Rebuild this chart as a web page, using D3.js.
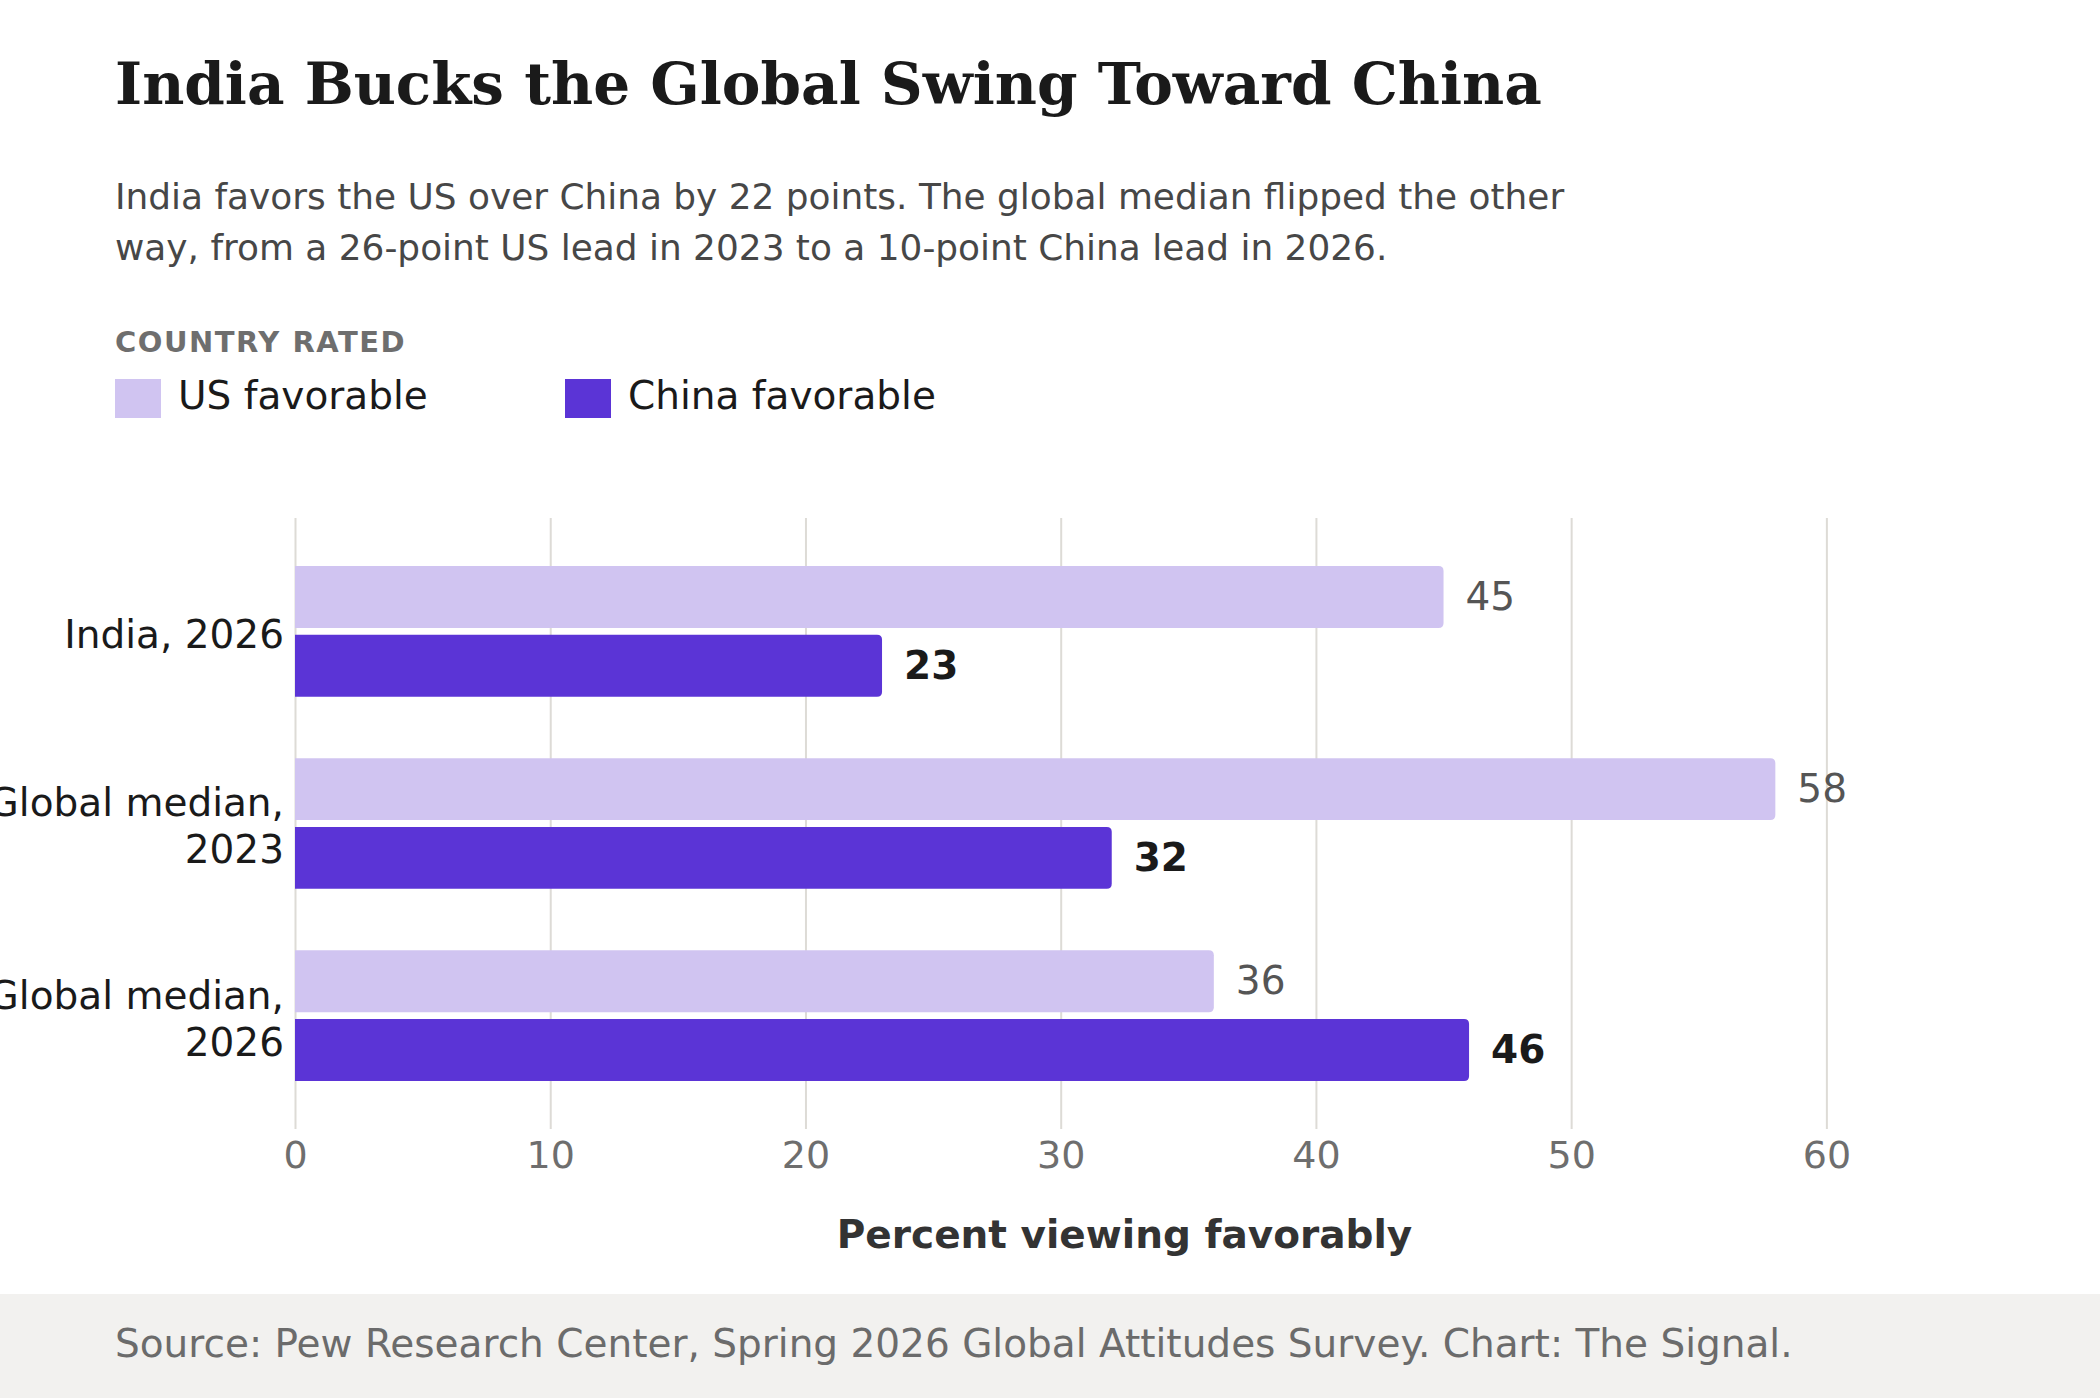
<!DOCTYPE html>
<html>
<head>
<meta charset="utf-8">
<script src="https://cdn.jsdelivr.net/npm/d3@7"></script>
<style>
  html, body { margin: 0; padding: 0; background: #fff; }
  svg { display: block; font-family: "DejaVu Sans", sans-serif; }
</style>
</head>
<body>
<svg id="chart" width="2100" height="1398"></svg>
<script>
// ── DATA ──────────────────────────────────────────────────────
const categories = [
  ["India, 2026"],
  ["Global median,", "2023"],
  ["Global median,", "2026"]
];
const seriesKeys   = ["us", "china"];
const seriesLabels = ["US favorable", "China favorable"];
const usValues     = [45, 58, 36];
const chinaValues  = [23, 32, 46];
const xTicks       = [0, 10, 20, 30, 40, 50, 60];

const titleText = "India Bucks the Global Swing Toward China";
const subtitleLines = [
  "India favors the US over China by 22 points. The global median flipped the other",
  "way, from a 26-point US lead in 2023 to a 10-point China lead in 2026."
];
const legendTitle = "COUNTRY RATED";
const axisTitle   = "Percent viewing favorably";
const sourceText  = "Source: Pew Research Center, Spring 2026 Global Attitudes Survey. Chart: The Signal.";

const colors = { us: "#d0c4f1", china: "#5b34d6" };

// rows built from the arrays above
const rows = categories.map((c, i) => ({
  id: i,
  label: c,
  us: usValues[i],
  china: chinaValues[i]
}));

// ── LAYOUT ────────────────────────────────────────────────────
const W = 2100, H = 1398;
const margin = { left: 295, top: 518, right: 146, bottom: 269 };
const innerW = W - margin.left - margin.right;
const innerH = H - margin.top - margin.bottom;

const svg = d3.select("#chart");

// ── HEADER ────────────────────────────────────────────────────
svg.append("text")
  .attr("x", 115).attr("y", 104)
  .attr("fill", "#1a1a1a")
  .style("font-family", "'DejaVu Serif', serif")
  .style("font-weight", "700")
  .style("font-size", "58px")
  .text(titleText);

svg.append("text")
  .attr("fill", "#474747")
  .style("font-size", "35.9px")
  .selectAll("tspan")
  .data(subtitleLines)
  .join("tspan")
    .attr("x", 115)
    .attr("y", (d, i) => 209 + i * 51)
    .text(d => d);

// ── LEGEND ────────────────────────────────────────────────────
svg.append("text")
  .attr("x", 115).attr("y", 352)
  .attr("fill", "#6e6e6e")
  .style("font-weight", "700")
  .style("font-size", "29px")
  .style("letter-spacing", "1.5px")
  .text(legendTitle);

const legend = svg.append("g")
  .selectAll("g")
  .data(seriesKeys)
  .join("g")
    .attr("transform", (d, i) => `translate(${115 + i * 450}, 379)`);

legend.append("rect")
  .attr("width", 46).attr("height", 39)
  .attr("fill", d => colors[d]);

legend.append("text")
  .attr("x", 63).attr("y", 30)
  .attr("fill", "#1a1a1a")
  .style("font-size", "39px")
  .text((d, i) => seriesLabels[i]);

// ── SCALES ────────────────────────────────────────────────────
const xScale = d3.scaleLinear().domain([0, 65]).range([0, innerW]);

const yScale = d3.scaleBand()
  .domain(rows.map(d => d.id))
  .range([0, innerH])
  .paddingInner(0.32)
  .paddingOuter(0.25);

const ySub = d3.scaleBand()
  .domain(seriesKeys)
  .range([0, yScale.bandwidth()])
  .paddingInner(0.1);

const inner = svg.append("g")
  .attr("transform", `translate(${margin.left}, ${margin.top})`);

// ── AXIS + GRID ───────────────────────────────────────────────
const xAxis = inner.append("g")
  .attr("transform", `translate(0, ${innerH})`)
  .call(d3.axisBottom(xScale)
    .tickValues(xTicks)
    .tickSize(-innerH)
    .tickPadding(12));

xAxis.select(".domain").remove();
xAxis.selectAll(".tick line")
  .attr("stroke", "#dddbd6")
  .attr("stroke-width", 2);
xAxis.selectAll(".tick text")
  .attr("fill", "#6e6e6e")
  .style("font-family", "'DejaVu Sans', sans-serif")
  .style("font-size", "38px");

inner.append("text")
  .attr("x", innerW / 2)
  .attr("y", 1248 - margin.top)
  .attr("text-anchor", "middle")
  .attr("fill", "#333")
  .style("font-weight", "700")
  .style("font-size", "39px")
  .text(axisTitle);

// ── BARS ──────────────────────────────────────────────────────
// square left edge, slightly rounded right edge
const barPath = (w, h, r) => {
  r = Math.min(r, w);
  return `M0,0 H${w - r} Q${w},0 ${w},${r} V${h - r} Q${w},${h} ${w - r},${h} H0 Z`;
};

const groups = inner.selectAll(".group")
  .data(rows)
  .join("g")
    .attr("class", "group")
    .attr("transform", d => `translate(0, ${yScale(d.id)})`);

const bars = groups.selectAll(".bar")
  .data(d => seriesKeys.map(k => ({ key: k, value: d[k] })))
  .join("g")
    .attr("class", "bar")
    .attr("transform", d => `translate(0, ${ySub(d.key)})`);

bars.append("path")
  .attr("d", d => barPath(xScale(d.value), ySub.bandwidth(), 5))
  .attr("fill", d => colors[d.key]);

bars.append("text")
  .attr("x", d => xScale(d.value) + 22)
  .attr("y", ySub.bandwidth() / 2)
  .attr("dy", "0.33em")
  .attr("fill", d => d.key === "china" ? "#1a1a1a" : "#555")
  .style("font-weight", d => d.key === "china" ? "700" : "400")
  .style("font-size", "39px")
  .text(d => d.value);

// ── CATEGORY LABELS ───────────────────────────────────────────
const catLabels = groups.append("text")
  .attr("text-anchor", "end")
  .attr("fill", "#1a1a1a")
  .style("font-size", "39px");

catLabels.selectAll("tspan")
  .data(d => d.label.map((line, i, arr) => ({ line, i, n: arr.length })))
  .join("tspan")
    .attr("x", -11)
    .attr("y", d => yScale.bandwidth() / 2 + (d.i - (d.n - 1) / 2) * 47)
    .attr("dy", "0.42em")
    .text(d => d.line);

// ── FOOTER ────────────────────────────────────────────────────
svg.append("rect")
  .attr("x", 0).attr("y", 1294)
  .attr("width", W).attr("height", H - 1294)
  .attr("fill", "#f2f1ef");

svg.append("text")
  .attr("x", 115).attr("y", 1357)
  .attr("fill", "#6b6b6b")
  .style("font-size", "39px")
  .text(sourceText);
</script>
</body>
</html>
